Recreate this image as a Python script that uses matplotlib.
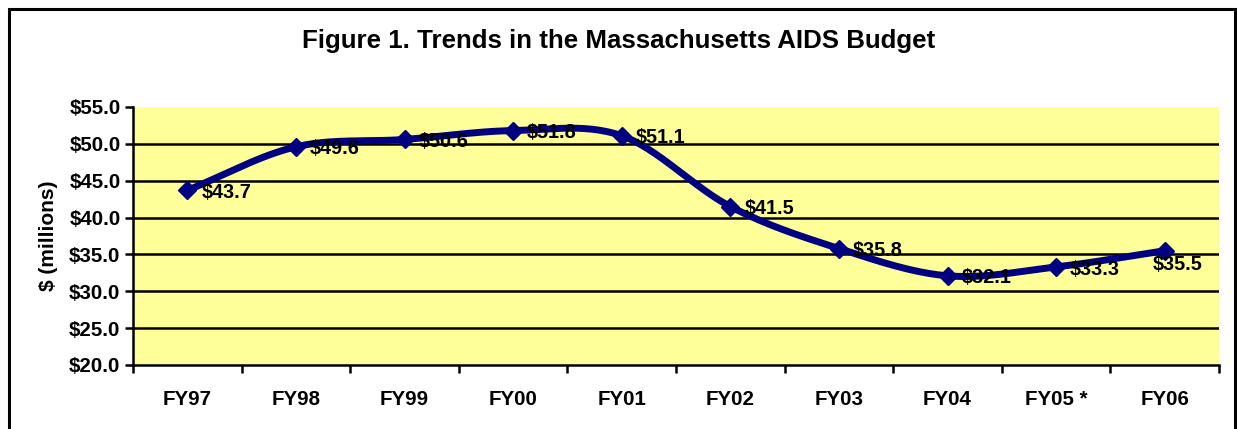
import numpy as np
import matplotlib.pyplot as plt
from matplotlib.patches import Rectangle

plt.rcParams['font.family'] = ['Liberation Sans', 'DejaVu Sans']
plt.rcParams['font.weight'] = 'bold'

years = ['FY97', 'FY98', 'FY99', 'FY00', 'FY01', 'FY02', 'FY03', 'FY04', 'FY05 *', 'FY06']
budget = [43.7, 49.6, 50.6, 51.8, 51.1, 41.5, 35.8, 32.1, 33.3, 35.5]
yticks = [20, 25, 30, 35, 40, 45, 50, 55]


def smooth(xs, ys, n=30):
    # Catmull-Rom, the way Excel draws a "smoothed line"
    xs = np.asarray(xs, float)
    ys = np.asarray(ys, float)
    px = np.concatenate([[2 * xs[0] - xs[1]], xs, [2 * xs[-1] - xs[-2]]])
    py = np.concatenate([[2 * ys[0] - ys[1]], ys, [2 * ys[-1] - ys[-2]]])
    ox, oy = [], []
    t = np.linspace(0, 1, n)
    for i in range(1, len(px) - 2):
        for p, out in ((px, ox), (py, oy)):
            p0, p1, p2, p3 = p[i - 1], p[i], p[i + 1], p[i + 2]
            out.extend(0.5 * (2 * p1 + (-p0 + p2) * t
                              + (2 * p0 - 5 * p1 + 4 * p2 - p3) * t ** 2
                              + (-p0 + 3 * p1 - 3 * p2 + p3) * t ** 3))
    return np.array(ox), np.array(oy)


fig = plt.figure(figsize=(12.37, 4.29), dpi=100)
ax = fig.add_axes([133 / 1237, 1 - 365 / 429, (1219 - 133) / 1237, (365 - 107) / 429])
ax.set_facecolor('#FFFF99')

# outer frame
fig.patches.append(Rectangle((8.5 / 1237, -0.05), (1235 - 8.5) / 1237, 1.05 - 8.5 / 429,
                             transform=fig.transFigure, fill=False,
                             edgecolor='black', linewidth=2.2))

x = np.arange(len(years))
sx, sy = smooth(x, budget)
ax.plot(sx, sy, color='#000080', linewidth=5, solid_capstyle='round', zorder=3)
ax.plot(x, budget, linestyle='none', marker='D', markersize=9,
        color='#000080', zorder=4)

# last label sits below the point (no room on the right)
label_offset = {len(years) - 1: (-9, -10)}
for i, (xi, v) in enumerate(zip(x, budget)):
    ax.annotate(f'${v:.1f}', (xi, v), xytext=label_offset.get(i, (10, -1.5)),
                textcoords='offset points', ha='left', va='center',
                fontsize=14.3, fontweight='bold', zorder=5)

ax.set_xlim(-0.5, len(years) - 0.5)
ax.set_ylim(20, 55)
ax.set_yticks(yticks)
ax.set_yticklabels([f'${v:.1f}' for v in yticks], fontsize=14.8, fontweight='bold')
ax.set_xticks(x)
ax.set_xticklabels(years, fontsize=14.8, fontweight='bold')
ax.set_xticks(np.arange(-0.5, len(years)), minor=True)
ax.tick_params(axis='x', which='major', length=0, pad=18)
ax.tick_params(axis='x', which='minor', length=6, width=1.8, direction='out')
ax.tick_params(axis='y', length=6, width=1.8, direction='out', pad=3)

for g in yticks[1:-1]:
    ax.axhline(g, color='black', linewidth=1.8, zorder=1)

for s in ['top', 'right']:
    ax.spines[s].set_visible(False)
for s in ['left', 'bottom']:
    ax.spines[s].set_linewidth(1.8)

ax.set_ylabel('$ (millions)', fontsize=15, fontweight='bold', labelpad=8)
fig.text(0.5, 1 - 41 / 429, 'Figure 1. Trends in the Massachusetts AIDS Budget',
         ha='center', va='center', fontsize=18.6, fontweight='bold')

plt.savefig('out.png', dpi=100)
